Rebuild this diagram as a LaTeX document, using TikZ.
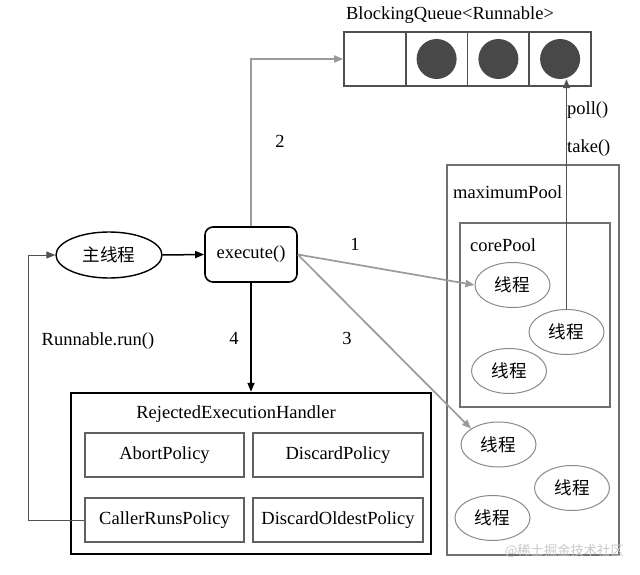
\documentclass[tikz,border=0pt]{standalone}
\usepackage{fontspec}
\setmainfont{Liberation Serif}
\newfontfamily\cjk{Noto Sans CJK SC}[Scale=0.95]
\usetikzlibrary{arrows.meta,shapes.geometric}
\definecolor{garrowc}{HTML}{9A9A9A}
\definecolor{boxgray}{HTML}{707070}
\definecolor{polgray}{HTML}{606060}
\definecolor{thrgray}{HTML}{8A8A8A}
\definecolor{qgray}{HTML}{505050}
\definecolor{ballc}{HTML}{484848}
\definecolor{wmark}{HTML}{C8C8C8}
\begin{document}
\begin{tikzpicture}[x=1pt,y=-1pt,
  font=\fontsize{18.5}{22}\selectfont,
  tip/.style={-{Triangle[length=9pt,width=7pt]}},
  garrow/.style={tip, draw=garrowc, line width=1.7pt, color=garrowc},
  barrow/.style={tip, draw=black, line width=1.5pt},
  darrow/.style={tip, draw=qgray, line width=1pt},
  cell/.style={draw=qgray, line width=1.6pt, minimum width=61.75, minimum height=54, inner sep=0},
  ball/.style={circle, fill=ballc, minimum size=40, inner sep=0},
  polbox/.style={draw=polgray, line width=1.6pt, minimum height=44, inner sep=0},
  thread/.style={draw=thrgray, line width=1pt, ellipse, minimum width=75, minimum height=45, inner sep=0},
  poolbox/.style={draw=boxgray, line width=2.4pt, inner sep=0},
  lbl/.style={inner sep=0}]
\useasboundingbox (0,0) rectangle (640,575);

% queue
\node[lbl] (bqt) at (450,15) {BlockingQueue<Runnable>};
\node[cell] (q1) at (374.9,59) {};
\node[cell] (q2) at (436.6,59) {};
\node[cell] (q3) at (498.4,59) {};
\node[cell] (q4) at (560.1,59) {};
\node[ball] (c2) at (q2) {};
\node[ball] (c3) at (q3) {};
\node[ball] (c4) at (q4) {};

% main flow
\node[draw, line width=1.4pt, ellipse, minimum width=106, minimum height=46, inner sep=0] (main) at (109,255) {\cjk 主线程};
\node[draw, line width=1.6pt, rounded corners=8pt, minimum width=92, minimum height=55, inner sep=0] (ex) at (251,254.5) {execute()};
\draw[barrow] (main.east) -- (ex.west);

% handler
\node[draw, line width=2.4pt, minimum width=360, minimum height=161, inner sep=0] (reh) at (251,473.5) {};
\node[lbl] (reht) at (236,414) {RejectedExecutionHandler};
\node[polbox, minimum width=159] (abort) at (164.5,455) {AbortPolicy};
\node[polbox, minimum width=170] (discard) at (338,455) {DiscardPolicy};
\node[polbox, minimum width=159] (caller) at (164.5,520) {CallerRunsPolicy};
\node[polbox, minimum width=170] (oldest) at (338,520) {DiscardOldestPolicy};

% pools
\node[poolbox, minimum width=172, minimum height=390] (maxp) at (533,360) {};
\node[lbl, anchor=west] (maxl) at (453,192) {maximumPool};
\node[poolbox, minimum width=150, minimum height=184] (corep) at (535,315) {};
\node[lbl, anchor=west] (corel) at (470,245) {corePool};

\node[thread] (t1) at (512.5,285) {\cjk 线程};
\node[thread] (t2) at (566.5,332) {\cjk 线程};
\node[thread] (t3) at (509,371) {\cjk 线程};
\node[thread] (t4) at (498.5,444.5) {\cjk 线程};
\node[thread] (t5) at (572,488) {\cjk 线程};
\node[thread] (t6) at (492.5,518) {\cjk 线程};

% connectors
\draw[garrow] (ex.north) |- (q1.west);
\node[lbl] (l2) at (280,141) {2};
\draw[garrow] (ex.east) -- (t1.west);
\node[lbl] (l1) at (355,244) {1};
\draw[garrow] (ex.east) -- (t4.150);
\node[lbl] (l3) at (347,338) {3};
\draw[barrow] (ex.south) -- (reh.north);
\node[lbl] (l4) at (234,338) {4};

\coordinate (loop) at (28,520);
\draw[darrow] (caller.west) -- (loop) |- (main.west);
\node[lbl] (rr) at (98,341) {Runnable.run()};

\draw[darrow] (t2.north) -- (t2.north |- c4.south);
\node[lbl, anchor=west] (poll) at (567,110) {poll()};
\node[lbl, anchor=west] (take) at (567,148) {take()};

\node[lbl, anchor=east, text=wmark] (wm) at (624,551) {\cjk\fontsize{14}{14}\selectfont @稀土掘金技术社区};
\end{tikzpicture}
\end{document}
